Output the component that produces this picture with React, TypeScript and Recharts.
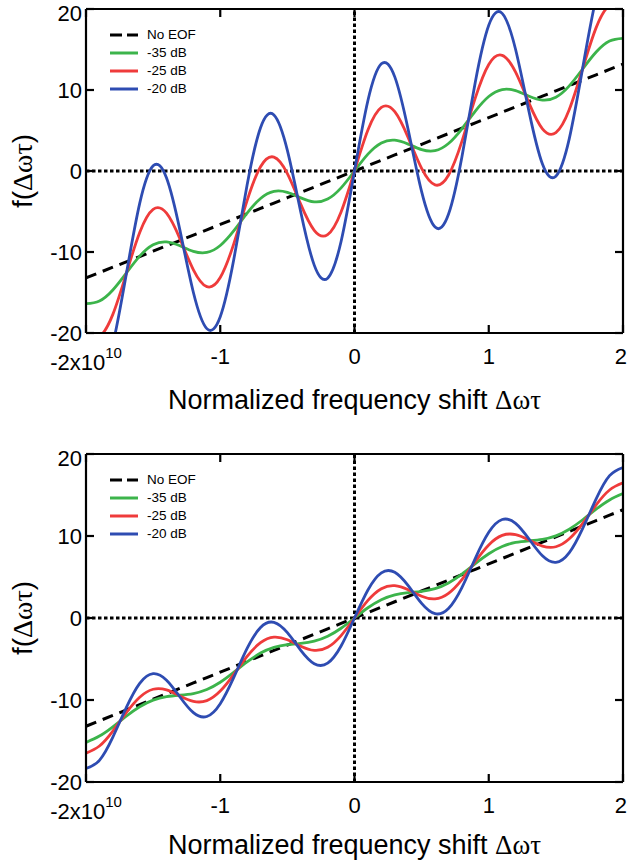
import { LineChart, Line, XAxis, YAxis, ReferenceLine, Legend } from "recharts";

const FONT = "'Liberation Sans', Arial, sans-serif";
const GREEK_FONT = "'Liberation Serif', 'Times New Roman', serif";

// normalized frequency shift, units of 1e10
const X = [
  -2.0, -1.9, -1.8, -1.7, -1.6, -1.5, -1.4, -1.3, -1.2, -1.1, -1.0, -0.9, -0.8, -0.7,
  -0.6, -0.5, -0.4, -0.3, -0.2, -0.1, 0.0, 0.1, 0.2, 0.3, 0.4, 0.5, 0.6, 0.7, 0.8, 0.9,
  1.0, 1.1, 1.2, 1.3, 1.4, 1.5, 1.6, 1.7, 1.8, 1.9, 2.0,
];

const NO_EOF = [
  -13.2, -12.54, -11.88, -11.22, -10.56, -9.9, -9.24, -8.58, -7.92, -7.26, -6.6, -5.94,
  -5.28, -4.62, -3.96, -3.3, -2.64, -1.98, -1.32, -0.66, 0, 0.66, 1.32, 1.98, 2.64, 3.3,
  3.96, 4.62, 5.28, 5.94, 6.6, 7.26, 7.92, 8.58, 9.24, 9.9, 10.56, 11.22, 11.88, 12.54, 13.2,
];

// upper panel
const TOP_35DB = [
  -16.38, -16.05, -14.69, -12.61, -10.51, -9.11, -8.75, -9.23, -9.92, -10.06, -9.2, -7.4,
  -5.21, -3.39, -2.51, -2.64, -3.32, -3.81, -3.47, -2.09, 0, 2.09, 3.47, 3.81, 3.32, 2.64,
  2.51, 3.39, 5.21, 7.4, 9.2, 10.06, 9.92, 9.23, 8.75, 9.11, 10.51, 12.61, 14.69, 16.05, 16.38,
];
const TOP_25DB = [
  -20.3, -20.44, -17.7, -12.67, -7.59, -4.74, -5.21, -8.38, -12.2, -14.28, -13.15, -9.02,
  -3.65, 0.53, 1.72, -0.31, -4.12, -7.32, -7.85, -5.06, 0, 5.06, 7.85, 7.32, 4.12, 0.31,
  -1.72, -0.53, 3.65, 9.02, 13.15, 14.28, 12.2, 8.38, 5.21, 4.74, 7.59, 12.67, 17.7, 20.44, 20.3,
];
const TOP_20DB = [
  -24.1, -25.83, -21.4, -12.74, -4.0, 0.64, -0.86, -7.33, -15.0, -19.46, -18.0, -11.0,
  -1.73, 5.35, 6.92, 2.55, -5.09, -11.62, -13.23, -8.7, 0, 8.7, 13.23, 11.62, 5.09, -2.55,
  -6.92, -5.35, 1.73, 11.0, 18.0, 19.46, 15.0, 7.33, 0.86, -0.64, 4.0, 12.74, 21.4, 25.83, 24.1,
];

// lower panel
const BOTTOM_35DB = [
  -15.17, -14.4, -13.27, -11.98, -10.83, -10.02, -9.59, -9.41, -9.21, -8.72, -7.84, -6.64,
  -5.36, -4.28, -3.58, -3.25, -3.09, -2.83, -2.23, -1.25, 0, 1.25, 2.23, 2.83, 3.09, 3.25,
  3.58, 4.28, 5.36, 6.64, 7.84, 8.72, 9.21, 9.41, 9.59, 10.02, 10.83, 11.98, 13.27, 14.4, 15.17,
];
const BOTTOM_25DB = [
  -16.48, -15.61, -13.79, -11.55, -9.66, -8.69, -8.77, -9.5, -10.16, -10.07, -8.91, -6.9,
  -4.69, -3.01, -2.33, -2.65, -3.44, -3.95, -3.57, -2.14, 0, 2.14, 3.57, 3.95, 3.44, 2.65,
  2.33, 3.01, 4.69, 6.9, 8.91, 10.07, 10.16, 9.5, 8.77, 8.69, 9.66, 11.55, 13.79, 15.61, 16.48,
];
const BOTTOM_20DB = [
  -18.36, -17.36, -14.53, -10.93, -7.97, -6.78, -7.58, -9.63, -11.54, -12.01, -10.45, -7.28,
  -3.71, -1.16, -0.53, -1.79, -3.94, -5.57, -5.51, -3.42, 0, 3.42, 5.51, 5.57, 3.94, 1.79,
  0.53, 1.16, 3.71, 7.28, 10.45, 12.01, 11.54, 9.63, 7.58, 6.78, 7.97, 10.93, 14.53, 17.36, 18.36,
];

const X_TICKS = [-2, -1, 0, 1, 2];
const Y_TICKS = [-20, -10, 0, 10, 20];
const SERIES_NAMES = ["No EOF", "-35 dB", "-25 dB", "-20 dB"];

const X_MIN = -2, X_MAX = 2, Y_MIN = -20, Y_MAX = 20;

const KEYS = ["noEof", "db35", "db25", "db20"];
const COLORS = ["#000000", "#3cb44b", "#ef3b3b", "#2e4cb2"];
const DASHES = ["11 7", undefined, undefined, undefined];

const AXIS_LINE = { stroke: "#000", strokeWidth: 2.2 };

function buildRows(g: number[], r: number[], b: number[]) {
  return X.map((x, i) => ({ x, noEof: NO_EOF[i], db35: g[i], db25: r[i], db20: b[i] }));
}

function XTick({ x, y, payload }: any) {
  const v = payload.value;
  if (v === -2) {
    return (
      <text x={x} y={y} textAnchor="middle" fontSize={22} fontFamily={FONT} fill="#000">
        <tspan dy="1.0em">-2x10</tspan>
        <tspan dy={-12} fontSize={15}>10</tspan>
      </text>
    );
  }
  // the last label sits against the page edge
  const anchor = v === 2 ? "end" : "middle";
  const dx = v === 2 ? 4 : 0;
  return (
    <text x={x + dx} y={y} dy="0.71em" textAnchor={anchor} fontSize={22} fontFamily={FONT} fill="#000">
      {v}
    </text>
  );
}

function LegendBox() {
  return (
    <div style={{ fontFamily: FONT, fontSize: 13.5, color: "#000" }}>
      {SERIES_NAMES.map((name, i) => (
        <div key={name} style={{ display: "flex", alignItems: "center", height: 18 }}>
          <svg width={30} height={6} style={{ display: "block" }}>
            <line x1={1} x2={29} y1={3} y2={3} stroke={COLORS[i]} strokeWidth={3}
              strokeDasharray={i === 0 ? "12 5" : undefined} />
          </svg>
          <span style={{ marginLeft: 8, lineHeight: "18px" }}>{name}</span>
        </div>
      ))}
    </div>
  );
}

function Panel({ rows, height, bottom }: { rows: any[]; height: number; bottom: number }) {
  const plotTop = 9;
  const plotBottom = height - bottom - 40;
  const midY = (plotTop + plotBottom) / 2;
  // inward tick length in data units (~8px)
  const tickY = (Y_MAX - Y_MIN) * 8 / (plotBottom - plotTop);
  const tickX = (X_MAX - X_MIN) * 8 / 537;
  return (
    <div style={{ position: "relative", width: 627, height }}>
      <LineChart width={627} height={height} data={rows}
        margin={{ top: plotTop, right: 4, left: 0, bottom }}>
        <XAxis dataKey="x" type="number" domain={[X_MIN, X_MAX]} ticks={X_TICKS} allowDataOverflow
          height={40} tick={<XTick />} tickSize={-8} tickMargin={23}
          axisLine={AXIS_LINE} tickLine={AXIS_LINE} />
        <YAxis type="number" domain={[Y_MIN, Y_MAX]} ticks={Y_TICKS} allowDataOverflow width={86}
          tickSize={-8} tickMargin={12}
          tick={{ fontSize: 22, fill: "#000", fontFamily: FONT }}
          axisLine={AXIS_LINE} tickLine={AXIS_LINE} />
        <ReferenceLine y={0} stroke="#000" strokeWidth={3} strokeDasharray="3.5 2.5" />
        <ReferenceLine x={0} stroke="#000" strokeWidth={3} strokeDasharray="3.5 2.5" />
        {KEYS.map((k, i) => (
          <Line key={k} dataKey={k} name={SERIES_NAMES[i]} type={i === 0 ? "linear" : "natural"}
            stroke={COLORS[i]} strokeWidth={i === 0 ? 3 : 2.8} strokeDasharray={DASHES[i]}
            dot={false} activeDot={false} isAnimationActive={false} />
        ))}
        {/* top and right sides of the box, with inward ticks */}
        <ReferenceLine y={Y_MAX} stroke="#000" strokeWidth={2.2} ifOverflow="visible" />
        <ReferenceLine x={X_MAX} stroke="#000" strokeWidth={2.2} ifOverflow="visible" />
        {X_TICKS.map((t) => (
          <ReferenceLine key={"tt" + t} stroke="#000" strokeWidth={2.2} ifOverflow="visible"
            segment={[{ x: t, y: Y_MAX }, { x: t, y: Y_MAX - tickY }]} />
        ))}
        {Y_TICKS.map((t) => (
          <ReferenceLine key={"tr" + t} stroke="#000" strokeWidth={2.2} ifOverflow="visible"
            segment={[{ x: X_MAX, y: t }, { x: X_MAX - tickX, y: t }]} />
        ))}
        <Legend layout="vertical" align="center" verticalAlign="middle" content={<LegendBox />}
          wrapperStyle={{ top: 26, left: 109, width: 120, height: 76 }} />
      </LineChart>
      <div style={{ position: "absolute", left: 86, width: 537, top: 400, transform: "translateY(-50%)",
        textAlign: "center", fontFamily: FONT, fontSize: 27, whiteSpace: "nowrap", color: "#000" }}>
        Normalized frequency shift <span style={{ fontFamily: GREEK_FONT }}>Δωτ</span>
      </div>
      <div style={{ position: "absolute", left: 23, top: midY, transform: "translate(-50%, -50%) rotate(-90deg)",
        fontFamily: FONT, fontSize: 28, whiteSpace: "nowrap", color: "#000" }}>
        f(<span style={{ fontFamily: GREEK_FONT }}>Δωτ</span>)
      </div>
    </div>
  );
}

export default function App() {
  const top = buildRows(TOP_35DB, TOP_25DB, TOP_20DB);
  const bottom = buildRows(BOTTOM_35DB, BOTTOM_25DB, BOTTOM_20DB);
  return (
    <div style={{ position: "absolute", left: 0, top: 0, width: 627, height: 864, background: "#fff", overflow: "hidden" }}>
      <div style={{ position: "absolute", left: 0, top: 0 }}>
        <Panel rows={top} height={420} bottom={47} />
      </div>
      <div style={{ position: "absolute", left: 0, top: 445 }}>
        <Panel rows={bottom} height={419} bottom={42} />
      </div>
    </div>
  );
}
